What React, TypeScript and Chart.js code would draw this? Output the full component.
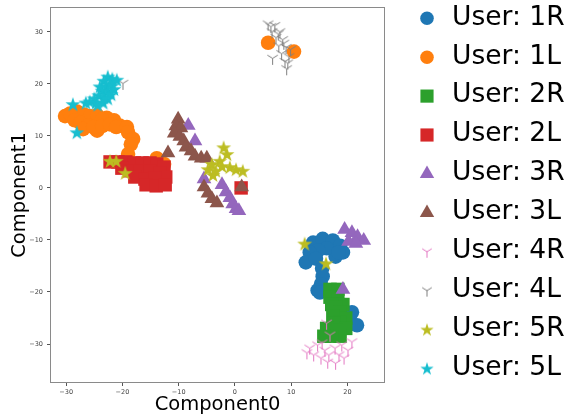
import React, { useEffect, useRef } from 'react';
import { Chart, registerables } from 'chart.js';

Chart.register(...registerables);

type Pt = [number, number];

// Embedding coordinates per user (Component0, Component1)
const user1R: Pt[] = [
  [13.9, -10.5], [15.6, -9.8], [17.4, -10.1], [18.7, -11.1], [19.2, -12.4], [17.9, -13.2],
  [16.3, -11.6], [14.8, -12.0], [18.4, -12.4], [13.3, -12.4], [12.6, -14.3], [14.4, -13.6],
  [15.5, -15.5], [15.6, -17.0], [15.3, -18.5], [14.7, -19.7], [15.1, -20.1], [20.8, -23.9],
  [20.4, -25.4], [21.7, -26.4],
];
const user1L: Pt[] = [
  [-30.2, 13.8], [-29.3, 14.3], [-28.1, 14.7], [-26.8, 14.1], [-25.8, 13.8], [-24.5, 14.0],
  [-28.5, 13.0], [-27.5, 12.5], [-22.8, 13.5], [-21.5, 13.0], [-20.5, 12.0], [-24.5, 11.0],
  [-23.6, 13.2], [-26.1, 12.0], [-27.0, 11.3], [-25.2, 11.7], [-23.6, 11.9], [-22.2, 12.2],
  [-21.1, 11.7], [-19.2, 11.7], [-19.0, 10.7], [-18.1, 9.4], [-18.5, 8.4], [-19.0, 6.5],
  [-13.9, 5.7], [-12.6, 4.6], [5.9, 27.9], [10.5, 26.2],
];
const user2R: Pt[] = [
  [16.9, -19.5], [18.3, -19.5], [16.9, -21.0], [18.3, -21.2], [19.2, -22.4], [17.2, -22.4],
  [18.0, -23.0], [18.7, -23.9], [17.4, -24.7], [19.7, -25.0], [18.7, -25.8], [17.6, -26.0],
  [19.7, -27.0], [17.9, -27.3], [16.3, -27.0], [15.8, -28.5], [18.7, -28.5], [17.2, -28.5],
];
const user2L: Pt[] = [
  [-22.2, 5.0], [-20.8, 5.0], [-19.4, 5.0], [-17.9, 4.8], [-16.5, 4.8], [-15.1, 4.8],
  [-13.9, 4.6], [-12.6, 4.0], [-20.1, 3.8], [-18.7, 3.3], [-16.9, 3.3], [-15.1, 3.3],
  [-13.3, 2.9], [-12.3, 2.1], [-17.8, 2.1], [-16.0, 1.7], [-14.2, 1.9], [-15.8, 0.6],
  [-14.0, 0.4], [-12.4, 0.6], [1.1, 0.0],
];
const user3R: Pt[] = [
  [-8.3, 12.0], [-7.1, 9.0], [-5.5, 1.7], [-2.3, 0.6], [-1.6, -0.8], [-0.9, -1.9],
  [-0.4, -3.1], [0.2, -4.0], [0.7, -4.4], [19.5, -8.0], [20.8, -8.6], [21.8, -9.4],
  [22.9, -10.1], [20.2, -10.3], [21.5, -10.7], [19.2, -19.5],
];
const user3L: Pt[] = [
  [-10.1, 13.2], [-10.5, 11.9], [-9.6, 11.5], [-10.8, 10.5], [-9.8, 9.9], [-9.1, 9.0],
  [-8.7, 7.8], [-7.8, 7.1], [-7.1, 6.1], [-6.0, 5.7], [-5.0, 5.7], [-11.9, 6.7],
  [-5.5, 0.2], [-4.8, -1.0], [-4.1, -2.1], [-3.2, -2.9], [1.2, 0.2],
];
const user4R: Pt[] = [
  [16.3, -26.0], [16.9, -28.3], [13.3, -30.8], [14.7, -30.2], [16.0, -31.2], [14.0, -32.1],
  [15.3, -32.7], [16.7, -32.1], [17.8, -30.8], [19.0, -30.2], [20.1, -31.2], [18.5, -32.1],
  [19.4, -32.7], [16.5, -33.5], [17.9, -33.7], [12.8, -31.7], [20.8, -29.6], [15.5, -29.8],
];
const user4L: Pt[] = [
  [5.9, 31.5], [7.1, 31.2], [6.6, 30.0], [8.0, 30.0], [7.3, 28.9], [8.5, 28.5],
  [7.8, 27.3], [9.1, 27.0], [8.3, 25.8], [9.6, 25.2], [8.9, 24.3], [9.2, 22.9],
  [6.7, 24.9], [9.9, 26.6], [6.4, 31.0], [7.7, 29.6], [8.7, 27.8], [9.4, 24.0],
  [-19.9, 20.1],
];
const user5R: Pt[] = [
  [-22.2, 5.2], [-21.1, 5.2], [-19.5, 2.9], [-2.0, 7.8], [-1.4, 6.5], [-2.7, 5.2],
  [-4.1, 4.6], [-4.8, 3.6], [-3.9, 2.5], [-2.3, 4.2], [-0.9, 4.0], [0.2, 3.6],
  [1.4, 3.3], [-3.4, 3.3], [12.4, -10.7], [16.2, -14.5],
];
const user5L: Pt[] = [
  [-22.6, 21.4], [-21.8, 21.0], [-23.3, 20.6], [-22.2, 20.1], [-22.9, 19.5], [-23.6, 18.7],
  [-22.6, 18.5], [-24.2, 17.8], [-23.3, 17.4], [-25.0, 17.2], [-25.8, 16.6], [-24.7, 16.4],
  [-23.4, 16.4], [-22.6, 17.2], [-21.8, 19.7], [-21.0, 20.8], [-21.5, 19.0], [-24.0, 19.5],
  [-26.5, 16.4], [-24.4, 16.0], [-22.0, 18.0], [-28.8, 16.1], [-28.1, 10.7],
];

const seriesLabels = [
  'User: 1R', 'User: 1L', 'User: 2R', 'User: 2L', 'User: 3R',
  'User: 3L', 'User: 4R', 'User: 4L', 'User: 5R', 'User: 5L',
];
const seriesPoints = [user1R, user1L, user2R, user2L, user3R, user3L, user4R, user4L, user5R, user5L];

const xTicks = [-30, -20, -10, 0, 10, 20];
const yTicks = [-30, -20, -10, 0, 10, 20, 30];
const xLimits = [-32.7, 26.5];
const yLimits = [-37.3, 34.6];

// Styling (tab10 palette, matplotlib-style markers)
const COLORS = [
  '#1f77b4', '#ff7f0e', '#2ca02c', '#d62728', '#9467bd',
  '#8c564b', '#e377c2', '#7f7f7f', '#bcbd22', '#17becf',
];
type Marker = 'circle' | 'rect' | 'triangle' | 'tri' | 'star';
const MARKERS: Marker[] = ['circle', 'circle', 'rect', 'rect', 'triangle', 'triangle', 'tri', 'tri', 'star', 'star'];
const RADIUS: Record<Marker, number> = { circle: 7.3, rect: 9.5, triangle: 8.5, tri: 6.5, star: 7.8 };
const LEGEND_RADIUS: Record<Marker, number> = { circle: 6.8, rect: 9.3, triangle: 8.3, tri: 6, star: 7 };
const FONT = '"DejaVu Sans", "Liberation Sans", sans-serif';

function starImage(color: string, R: number): HTMLCanvasElement {
  const size = Math.ceil(R * 2 + 2);
  const c = document.createElement('canvas');
  c.width = size;
  c.height = size;
  const g = c.getContext('2d')!;
  g.translate(size / 2, size / 2 + R * 0.1);
  g.beginPath();
  const r = R * 0.382;
  for (let i = 0; i < 10; i++) {
    const a = -Math.PI / 2 + (i * Math.PI) / 5;
    const rr = i % 2 === 0 ? R : r;
    g.lineTo(Math.cos(a) * rr, Math.sin(a) * rr);
  }
  g.closePath();
  g.fillStyle = color;
  g.fill();
  return c;
}

function triDownImage(color: string, R: number): HTMLCanvasElement {
  const size = Math.ceil(R * 2 + 4);
  const c = document.createElement('canvas');
  c.width = size;
  c.height = size;
  const g = c.getContext('2d')!;
  g.translate(size / 2, size / 2);
  g.strokeStyle = color;
  g.lineWidth = 1;
  g.beginPath();
  g.moveTo(0, 0); g.lineTo(0, R);
  g.moveTo(0, 0); g.lineTo(-0.8 * R, -0.5 * R);
  g.moveTo(0, 0); g.lineTo(0.8 * R, -0.5 * R);
  g.stroke();
  return c;
}

function pointStyleFor(i: number, radii: Record<Marker, number>): any {
  const m = MARKERS[i];
  if (m === 'star') return starImage(COLORS[i], radii.star);
  if (m === 'tri') return triDownImage(COLORS[i], radii.tri);
  return m;
}

function drawLegendMarker(ctx: CanvasRenderingContext2D, i: number, x: number, y: number) {
  const m = MARKERS[i];
  const r = LEGEND_RADIUS[m];
  ctx.fillStyle = COLORS[i];
  if (m === 'star' || m === 'tri') {
    const img = pointStyleFor(i, LEGEND_RADIUS);
    ctx.drawImage(img, x - img.width / 2, y - img.height / 2);
    return;
  }
  ctx.beginPath();
  if (m === 'circle') {
    ctx.arc(x, y, r, 0, Math.PI * 2);
  } else if (m === 'rect') {
    const s = Math.SQRT1_2 * r;
    ctx.rect(x - s, y - s, 2 * s, 2 * s);
  } else {
    for (let k = 0; k < 3; k++) {
      const a = (k * 2 * Math.PI) / 3;
      ctx.lineTo(x + Math.sin(a) * r, y - Math.cos(a) * r);
    }
    ctx.closePath();
  }
  ctx.fill();
}

const LEGEND_MARKER_X = 427;
const LEGEND_TEXT_X = 452;
const LEGEND_TOP = 18.3;
const LEGEND_STEP = 38.9;

const framePlugin = {
  id: 'axesFrame',
  afterDatasetsDraw(chart: any) {
    const { ctx, chartArea } = chart;
    const l = Math.round(chartArea.left) - 0.5;
    const t = Math.round(chartArea.top) - 0.5;
    const r = Math.round(chartArea.right) + 0.5;
    const b = Math.round(chartArea.bottom) + 0.5;
    ctx.save();
    ctx.strokeStyle = '#8a8a8a';
    ctx.lineWidth = 1;
    ctx.strokeRect(l, t, r - l, b - t);
    ctx.restore();
  },
};

const sideLegendPlugin = {
  id: 'sideLegend',
  afterDraw(chart: any) {
    const { ctx } = chart;
    ctx.save();
    chart.data.datasets.forEach((ds: any, i: number) => {
      const y = LEGEND_TOP + i * LEGEND_STEP;
      drawLegendMarker(ctx, i, LEGEND_MARKER_X, y);
      ctx.fillStyle = '#000';
      ctx.font = `26.5px ${FONT}`;
      ctx.textBaseline = 'middle';
      ctx.textAlign = 'left';
      ctx.fillText(ds.label, LEGEND_TEXT_X, y - 0.5);
    });
    ctx.restore();
  },
};

const fmtTick = (v: number | string) => String(v).replace('-', '\u2212');

export default function App() {
  const canvasRef = useRef<HTMLCanvasElement>(null);

  useEffect(() => {
    if (!canvasRef.current) return;
    const datasets = seriesPoints.map((pts, i) => {
      const m = MARKERS[i];
      return {
        label: seriesLabels[i],
        data: pts.map(([x, y]) => ({ x, y })),
        pointStyle: pointStyleFor(i, RADIUS),
        pointRadius: RADIUS[m],
        pointHoverRadius: RADIUS[m],
        backgroundColor: COLORS[i],
        borderColor: COLORS[i],
        borderWidth: 0,
        pointBorderWidth: 0,
        order: seriesPoints.length - i,
      };
    });

    const chart = new Chart(canvasRef.current, {
      type: 'scatter',
      data: { datasets },
      plugins: [framePlugin, sideLegendPlugin],
      options: {
        animation: false,
        responsive: true,
        maintainAspectRatio: false,
        events: [],
        layout: { autoPadding: false, padding: { top: 6, right: 184, left: 0, bottom: 0 } },
        plugins: { legend: { display: false }, tooltip: { enabled: false } },
        scales: {
          x: {
            type: 'linear',
            min: xLimits[0],
            max: xLimits[1],
            afterBuildTicks: (s: any) => { s.ticks = xTicks.map((v) => ({ value: v })); },
            afterFit: (s: any) => { s.height = 34; },
            border: { display: false },
            grid: { drawOnChartArea: false, drawTicks: true, tickLength: 4, tickColor: '#555', tickWidth: 1 },
            ticks: {
              color: '#444',
              font: { family: FONT, size: 6.5 },
              padding: 2,
              maxRotation: 0,
              autoSkip: false,
              callback: (v: any) => fmtTick(v),
            },
            title: {
              display: true,
              text: 'Component0',
              color: '#000',
              font: { family: FONT, size: 19.5 },
              padding: { top: 0, bottom: -1 },
            },
          },
          y: {
            type: 'linear',
            min: yLimits[0],
            max: yLimits[1],
            afterBuildTicks: (s: any) => { s.ticks = yTicks.map((v) => ({ value: v })); },
            afterFit: (s: any) => { s.width = 51; },
            border: { display: false },
            grid: { drawOnChartArea: false, drawTicks: true, tickLength: 4, tickColor: '#555', tickWidth: 1 },
            ticks: {
              color: '#444',
              font: { family: FONT, size: 6.5 },
              padding: 4,
              autoSkip: false,
              callback: (v: any) => fmtTick(v),
            },
            title: {
              display: true,
              text: 'Component1',
              color: '#000',
              font: { family: FONT, size: 19.5 },
              padding: { top: 8, bottom: 0 },
            },
          },
        },
      },
    });
    return () => chart.destroy();
  }, []);

  return (
    <div style={{ position: 'absolute', left: 0, top: 0, width: 568, height: 416, background: '#fff' }}>
      <canvas ref={canvasRef} />
    </div>
  );
}
